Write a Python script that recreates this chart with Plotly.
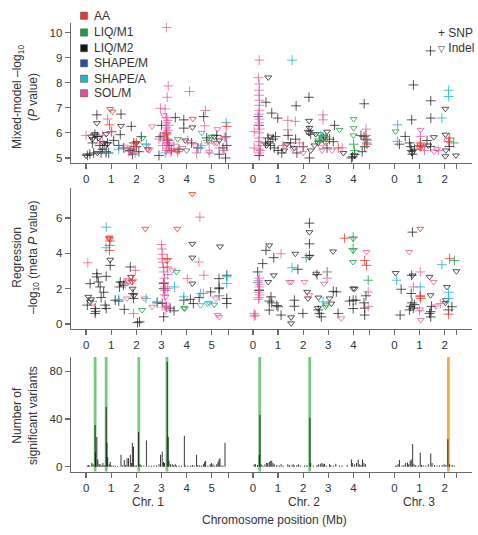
import plotly.graph_objects as go

# ---------------- data ----------------
PHENOTYPES = ["AA", "LIQ/M1", "LIQ/M2", "SHAPE/M", "SHAPE/A", "SOL/M"]

# Mixed-model -log10(P)  : (chromosome, position Mb, value)
mm_AA_snp = [(1,0.93,6.32),(1,1.02,6.05),(1,1.9,5.45),(1,2.0,5.6),(1,3.2,5.95),(1,3.25,5.75),(1,3.4,5.3),
             (1,3.65,5.25),(1,5.6,6.26),(1,5.55,5.85),(2,3.4,5.4),(2,4.55,5.55),(2,4.5,5.9),(3,1.04,5.6),
             (3,1.05,5.45),(3,1.02,5.5),(3,2.16,5.66),(3,2.2,5.8)]
mm_AA_indel = [(1,0.96,6.95),(1,1.05,6.85),(1,4.25,6.56),(1,2.45,5.35),(1,3.6,5.3),(1,5.2,5.6),
               (3,1.04,5.5),(3,1.02,5.4),(2,2.9,5.6)]
mm_LIQM1_snp = [(1,4.85,5.7),(2,4.01,5.55),(2,4.52,5.6),(2,4.05,5.3),(2,2.65,5.7),(2,2.9,5.85),(3,2.36,5.6)]
mm_LIQM1_indel = [(1,2.25,5.8),(1,3.65,5.75),(1,4.0,5.3),(1,5.0,5.85),(2,4.01,6.55),(2,4.01,6.19),
                  (2,3.45,6.12),(2,2.6,5.7),(2,2.65,5.95),(2,2.85,5.65),(3,0.05,6.06),(2,4.0,5.9)]
mm_LIQM2_snp = [(1,0.05,5.1),(1,0.15,5.15),(1,0.25,5.6),(1,0.3,5.2),(1,0.35,5.95),(1,0.43,6.72),(1,0.45,5.85),
                (1,0.55,5.5),(1,0.6,5.2),(1,0.65,5.35),(1,0.72,5.5),(1,0.8,5.25),(1,0.85,5.6),(1,0.9,5.2),
                (1,1.1,5.7),(1,1.39,6.75),(1,1.36,5.93),(1,1.3,5.5),(1,1.5,5.4),(1,1.8,6.26),(1,1.75,5.3),
                (1,1.85,5.15),(1,1.9,5.6),(1,2.0,5.45),(1,2.1,5.25),(1,2.2,5.85),(1,2.9,5.1),(1,2.95,5.85),
                (1,3.0,6.3),(1,3.2,6.0),(1,3.25,5.7),(1,3.3,5.5),(1,3.55,6.61),(1,3.89,6.52),(1,3.89,6.19),
                (1,3.7,5.35),(1,4.2,5.6),(1,4.45,5.4),(1,4.68,6.65),(1,4.8,5.8),(1,5.2,5.9),(1,5.3,5.15),
                (1,5.55,5.0),(1,5.6,5.5),(1,5.45,5.4),
                (2,0.52,7.22),(2,0.75,6.79),(2,0.99,6.59),(2,2.23,7.42),(2,1.72,7.08),(2,4.43,7.16),(2,0.25,6.3),
                (2,0.25,5.1),(2,0.5,5.6),(2,0.6,5.8),(2,0.7,5.5),(2,0.8,5.75),(2,0.9,5.85),(2,0.85,5.4),
                (2,1.0,5.3),(2,1.15,5.2),(2,1.4,5.9),(2,1.7,5.75),(2,1.5,5.6),(2,2.23,6.1),(2,2.3,5.95),
                (2,2.0,5.45),(2,2.25,5.0),(2,2.8,5.8),(2,3.05,5.75),(2,3.2,5.65),(2,2.95,5.4),(2,3.25,6.3),
                (2,3.92,5.0),(2,3.97,5.05),(2,4.05,5.15),(2,4.3,5.9),(2,4.42,5.85),(2,4.5,5.75),(2,4.35,5.25),
                (2,4.45,5.45),(2,1.75,5.2),
                (3,0.76,7.91),(3,0.69,6.52),(3,0.43,5.86),(3,0.6,5.6),(3,0.69,5.3),(3,0.72,5.15),(3,0.8,5.35),
                (3,0.65,5.45),(3,1.45,7.28),(3,1.45,6.59),(3,1.44,5.46),(3,1.44,9.27),(3,2.19,5.46),(3,1.3,5.7),
                (3,0.2,5.55)]
mm_LIQM2_indel = [(1,0.0,5.1),(1,0.2,5.85),(1,0.35,5.95),(1,0.25,5.75),(1,0.43,6.39),(1,0.5,5.8),(1,0.45,5.2),
                  (1,0.7,5.6),(1,0.8,5.95),(1,0.85,5.55),(1,1.39,6.28),(1,1.8,5.3),(1,2.0,5.6),(1,3.95,5.7),
                  (1,4.23,6.22),(1,5.1,5.85),(1,5.3,5.7),
                  (2,0.61,8.21),(2,2.23,6.48),(2,2.23,5.99),(2,2.25,6.2),(2,0.55,5.5),(2,0.7,5.85),(2,0.65,5.6),
                  (2,1.35,5.55),(2,1.25,5.3),(2,1.65,5.4),(2,2.45,5.5),(2,2.5,5.95),(2,2.3,5.3),(2,2.6,5.6),
                  (2,2.95,6.05),(2,2.85,5.85),(2,3.6,5.2),(2,4.05,5.1),
                  (3,1.57,5.83),(3,2.03,6.96),(3,2.03,5.93),(3,2.03,5.07),(3,2.45,5.1),(3,0.7,5.2),(3,2.05,5.3),
                  (3,1.35,5.5)]
mm_SHAPEM_snp = [(2,0.21,6.65)]
mm_SHAPEM_indel = []
mm_SHAPEA_snp = [(1,4.12,7.65),(1,5.57,6.41),(1,5.58,5.85),(1,2.4,5.55),(1,1.3,5.35),(1,0.78,5.2),(1,3.15,5.2),
                 (1,4.55,5.4),(2,1.56,8.9),(3,0.13,6.32),(3,0.12,5.66),(3,2.16,7.7),(3,2.16,7.45),(3,1.89,6.59),
                 (2,2.7,5.9)]
mm_SHAPEA_indel = [(1,4.6,6.0),(1,2.35,5.5)]
mm_SOLM_snp = [(1,3.2,10.2),(1,3.27,7.87),(1,3.23,7.42),(1,2.96,6.98),(1,3.15,6.95),(1,3.2,6.6),(1,3.18,6.4),
               (1,3.25,6.5),(1,3.2,6.2),(1,3.15,6.0),(1,3.1,5.8),(1,3.2,5.7),(1,3.3,5.6),(1,3.25,5.4),(1,3.2,5.3),
               (1,3.35,5.25),(1,3.05,5.5),(1,3.1,5.9),(1,3.25,6.1),(1,3.3,6.3),(1,0.85,6.55),(1,0.65,5.9),
               (1,1.0,6.05),(1,1.7,5.25),(1,1.8,5.35),(1,1.95,5.2),(1,2.5,5.4),(1,2.9,5.75),(1,3.5,5.55),
               (1,4.05,5.7),(1,4.4,5.2),(1,4.72,6.28),(1,4.75,6.89),(1,4.6,5.5),(1,4.9,5.6),(1,5.3,5.4),
               (1,5.5,5.3),(1,0.0,5.9),(1,0.55,5.6),(1,4.9,5.2),(1,5.5,5.8),
               (2,0.25,8.9),(2,0.22,8.2),(2,0.25,7.95),(2,0.25,7.7),(2,0.24,7.5),(2,0.26,7.3),(2,0.25,7.1),
               (2,0.25,6.9),(2,0.24,6.75),(2,0.26,6.55),(2,0.25,6.4),(2,0.22,6.3),(2,0.27,6.15),(2,0.25,6.0),
               (2,0.25,5.8),(2,0.22,5.65),(2,0.28,5.5),(2,0.25,5.35),(2,0.25,5.2),(2,0.05,6.05),(2,0.05,5.4),
               (2,0.3,5.3),(2,1.39,6.5),(2,1.69,6.46),(2,1.39,6.12),(2,2.79,6.72),(2,2.79,6.52),(2,1.85,5.6),
               (2,2.0,5.45),(2,4.5,6.15),(2,4.55,5.7),(2,3.55,5.4),(2,1.2,5.5),
               (3,1.04,5.86),(3,1.2,5.3),(3,1.75,5.3)]
mm_SOLM_indel = [(1,2.63,6.26),(1,5.23,6.15),(1,3.1,6.7),(1,4.9,5.25),(1,3.4,5.3),(1,2.5,5.3),(1,3.85,5.4),
                 (1,5.1,5.6),(1,1.8,5.2),(1,4.35,5.5),(1,1.55,5.45),(1,3.2,5.55),
                 (2,1.3,5.5),(2,2.0,5.2),(2,2.75,5.3),(2,2.7,5.45),(2,3.15,5.3),(2,1.6,5.35),
                 (3,1.04,6.12),(3,1.58,5.26),(3,1.7,5.35),(3,2.1,5.7),(3,1.15,5.45)]

# Regression -log10(meta P)
rg_AA_snp = [(1,0.93,4.45),(1,0.93,4.17),(1,0.95,4.7),(1,3.23,3.7),(1,3.23,3.23),(1,1.85,2.5),(2,3.65,4.86),
             (2,4.45,3.6),(2,4.52,3.32),(3,2.2,3.7),(3,1.03,1.55),(3,1.05,1.45),(3,1.03,1.6),(3,2.16,0.56)]
rg_AA_indel = [(1,0.93,4.9),(1,0.95,4.8),(1,0.9,4.85),(1,2.36,5.39),(1,3.63,5.39),(1,4.23,7.36),(1,3.23,3.6),
               (1,1.83,2.38),(3,1.03,5.39)]
rg_LIQM1_snp = [(2,2.12,3.76),(2,3.99,4.92),(2,3.99,4.26),(2,4.59,2.48),(2,2.96,2.95),(3,2.39,3.6),(1,5.3,1.6)]
rg_LIQM1_indel = [(1,2.23,0.79),(1,3.6,2.95),(1,3.93,0.88),(1,3.9,0.9),(2,3.99,4.83),(2,3.99,4.17),
                  (2,3.99,3.51),(2,2.89,0.98),(2,2.92,1.1),(1,5.1,1.1)]
rg_LIQM2_snp = [(1,0.96,3.32),(1,0.43,2.85),(1,0.43,2.67),(1,0.49,2.38),(1,0.16,2.29),(1,0.56,2.1),(1,0.8,2.7),
                (1,0.05,1.07),(1,0.36,0.88),(1,0.36,0.6),(1,0.38,0.72),(1,0.76,1.07),(1,0.8,0.88),(1,0.6,1.5),
                (1,0.7,1.8),(1,1.76,3.23),(1,1.36,2.38),(1,1.33,2.1),(1,1.49,2.2),(1,1.16,1.35),(1,1.52,0.83),
                (1,1.87,1.73),(1,1.89,1.45),(1,1.3,1.3),(1,2.05,0.08),(1,2.13,0.13),(1,2.83,1.2),(1,3.03,1.16),
                (1,3.09,2.29),(1,3.09,2.0),(1,3.09,0.41),(1,3.89,1.35),(1,4.27,1.16),(1,4.15,1.4),(1,4.96,1.82),
                (1,5.29,2.0),(1,5.3,2.05),(1,5.29,2.57),(1,5.6,2.76),(1,5.6,1.45),(1,5.6,1.16),(1,4.5,1.5),
                (1,3.35,0.9),(1,3.5,0.75),
                (2,2.25,5.71),(2,2.25,4.54),(2,2.25,3.89),(2,0.52,4.17),(2,0.39,3.42),(2,0.83,3.76),(2,0.19,2.95),
                (2,1.79,3.1),(2,0.72,1.54),(2,0.65,1.3),(2,1.0,0.98),(2,0.95,1.05),(2,1.12,0.51),(2,0.65,0.79),
                (2,0.75,1.2),(2,1.65,1.35),(2,1.65,1.01),(2,1.99,0.6),(2,2.72,0.41),(2,2.65,0.6),(2,3.32,1.82),
                (2,3.2,1.85),(2,3.39,0.6),(2,3.99,1.35),(2,3.85,1.3),(2,4.1,1.35),(2,3.99,0.88),(2,4.45,0.51),
                (2,4.45,0.9),(2,4.42,1.2),(2,4.5,1.6),(2,0.25,1.9),(2,2.55,2.8),(2,2.6,0.8),
                (3,0.72,5.2),(3,0.27,1.97),(3,0.69,2.76),(3,0.67,1.73),(3,0.6,0.8),(3,0.65,1.0),(3,0.7,1.2),
                (3,0.75,0.9),(3,0.8,1.1),(3,0.23,0.51),(3,1.45,0.4),(3,1.45,0.7),(3,1.48,1.0),(3,1.4,0.6),
                (3,2.29,0.98),(3,2.15,0.8)]
rg_LIQM2_indel = [(1,0.96,3.64),(1,0.09,1.54),(1,0.16,1.26),(1,0.2,1.4),(1,1.79,2.67),(1,1.85,2.0),(1,1.4,2.3),
                  (1,1.9,1.6),(1,4.23,4.54),(1,4.23,3.76),(1,4.23,2.29),(1,5.33,4.39),
                  (2,2.25,5.2),(2,2.25,3.79),(2,0.65,4.45),(2,1.69,3.98),(2,3.19,4.11),(2,0.83,2.76),(2,0.61,2.38),
                  (2,1.52,0.38),(2,1.52,0.04),(2,2.52,2.85),(2,2.16,1.82),(2,2.19,1.45),(2,2.61,1.5),(2,3.05,1.45),
                  (2,3.12,1.16),(2,3.99,2.01),(2,4.05,2.0),(2,2.58,0.9),
                  (3,0.05,2.89),(3,1.4,2.67),(3,1.44,1.63),(3,2.47,2.99),(3,2.09,2.1),(3,2.03,1.2),(3,2.05,1.35),
                  (3,0.72,2.75)]
rg_SHAPEM_snp = []
rg_SHAPEM_indel = []
rg_SHAPEA_snp = [(1,0.8,5.48),(1,0.8,4.32),(1,2.39,1.45),(1,2.83,1.26),(1,3.52,2.1),(1,3.89,1.54),(1,4.56,1.73),
                 (1,5.6,2.67),(1,5.6,2.29),(1,1.3,1.4),(2,0.19,2.35),(2,1.56,3.19),(2,2.79,1.26),(3,0.09,2.48),
                 (3,1.03,2.1),(3,1.89,3.36),(3,2.16,1.8),(3,2.16,1.45)]
rg_SHAPEA_indel = [(1,4.56,1.07),(1,4.83,1.16),(1,4.9,1.2)]
rg_SOLM_snp = [(1,0.07,3.47),(1,1.96,3.04),(1,1.56,2.29),(1,1.89,0.6),(1,4.53,6.05),(1,4.03,2.57),(1,4.49,3.51),
               (1,4.69,2.76),(1,4.67,1.73),(1,3.0,4.5),(1,3.02,4.25),(1,3.05,3.95),(1,3.02,3.7),(1,3.05,3.5),
               (1,3.08,3.2),(1,3.1,2.95),(1,3.12,2.6),(1,3.1,2.35),(1,3.15,2.1),(1,3.15,1.9),(1,3.12,1.65),
               (1,3.15,1.2),(1,3.2,1.0),(1,3.18,0.8),(1,3.25,2.8),(1,3.25,2.0),
               (2,0.25,2.6),(2,0.22,2.45),(2,0.27,2.25),(2,0.25,2.1),(2,0.25,1.95),(2,0.23,1.8),(2,0.27,1.65),
               (2,0.25,1.5),(2,0.22,1.4),(2,0.05,0.6),(2,0.05,0.45),(2,1.12,3.98),(2,4.59,1.82),(2,4.59,0.98),
               (2,2.95,2.6),(2,0.1,0.5),
               (3,1.03,2.95),(3,0.76,2.1),(3,1.83,1.16),(3,1.0,0.75)]
rg_SOLM_indel = [(1,1.63,2.48),(1,1.63,1.45),(1,1.7,2.4),(1,2.32,1.45),(1,2.63,0.98),(1,3.43,3.04),(1,3.16,1.54),
                 (1,3.19,0.98),(1,3.22,0.85),(1,5.16,1.45),(1,5.23,0.51),(1,5.3,0.4),(1,0.3,1.2),
                 (2,1.45,2.38),(2,1.52,2.38),(2,2.05,2.38),(2,2.25,1.63),(2,2.83,2.29),(2,3.52,0.32),(2,4.52,4.08),
                 (3,0.59,4.08),(3,1.05,0.23),(3,1.03,0.83),(3,1.56,2.38),(3,1.65,1.0)]

# Number of significant variants per window: (position Mb, count)
hist_chr1 = [(0.05,1),(0.1,1.5),(0.15,1),(0.23,3.4),(0.28,2),(0.36,35),(0.38,12),(0.43,25),(0.47,6),(0.52,2),
             (0.56,2),(0.62,1),(0.67,3),(0.72,1.5),(0.8,50),(0.83,20),(0.86,8),(0.92,2),(0.96,4),(1.0,1),
             (1.08,1),(1.16,0.8),(1.25,0.5),(1.39,10),(1.45,1),(1.52,5.6),(1.58,1.5),(1.63,7),(1.69,7),
             (1.76,10),(1.8,3),(1.84,20),(1.89,17),(1.95,1),(2.0,1),(2.09,29),(2.15,2),(2.2,1),(2.3,1),
             (2.4,22),(2.5,1),(2.6,0.8),(2.7,1),(2.8,1),(2.9,2),(2.96,10),(3.03,12.6),(3.08,4),(3.12,3),
             (3.23,88),(3.27,25),(3.3,5),(3.36,2),(3.43,2),(3.49,1.5),(3.55,2),(3.6,1),(3.7,1),(3.8,0.8),
             (3.91,26),(3.95,1),(4.05,1),(4.15,1),(4.23,1.5),(4.3,1),(4.4,10),(4.45,1.5),(4.52,1),(4.6,1),
             (4.67,2),(4.72,4),(4.76,5),(4.85,1),(4.94,2),(4.99,3),(5.05,2),(5.12,1),(5.2,2),(5.25,4),
             (5.29,6),(5.33,7),(5.4,1),(5.45,1),(5.53,20)]
hist_chr2 = [(0.05,2),(0.1,2),(0.18,1.5),(0.25,10),(0.28,43.5),(0.33,2),(0.4,1),(0.48,2),(0.55,3),(0.59,3),
             (0.65,4),(0.69,5),(0.75,5),(0.8,3),(0.85,2),(0.95,1.5),(1.05,1),(1.12,2),(1.2,1),(1.39,2),
             (1.45,1.5),(1.55,1),(1.6,2),(1.65,1),(1.75,1.5),(1.82,2),(1.9,1),(2.05,1),(2.15,1.5),(2.27,41),
             (2.3,3),(2.4,1),(2.55,1.5),(2.62,2),(2.7,2.5),(2.75,3),(2.8,2),(2.85,2.5),(2.92,1),(3.05,2),
             (3.1,1.5),(3.2,1),(3.3,2.5),(3.45,1),(3.55,1),(3.75,1.5),(3.92,6),(3.97,3),(4.05,2),(4.12,3),
             (4.19,6),(4.25,2),(4.3,1.5),(4.36,6),(4.42,3),(4.48,2)]
hist_chr3 = [(0.05,1),(0.1,1),(0.15,2),(0.2,5.6),(0.3,1),(0.38,1.5),(0.45,3),(0.52,3.5),(0.57,2),(0.63,5),
             (0.67,6),(0.73,19),(0.78,2),(0.85,1.5),(0.95,1),(1.03,12),(1.08,1.5),(1.15,1),(1.25,1),(1.35,2),
             (1.45,11),(1.5,3),(1.6,1.5),(1.7,1),(1.8,1),(1.9,1.5),(1.98,2),(2.05,1.5),(2.13,23),(2.2,2),
             (2.3,1.5),(2.38,1)]

# highlighted loci (chromosome, position Mb, kind)
band_chr = [1, 1, 1, 1, 2, 2, 3]
band_pos = [0.36, 0.8, 2.1, 3.22, 0.27, 2.26, 2.15]
band_kind = ["g", "g", "g", "g", "g", "g", "o"]

chr_names = ["Chr. 1", "Chr. 2", "Chr. 3"]
chr_ticks = {1: [0, 1, 2, 3, 4, 5], 2: [0, 1, 2, 3, 4], 3: [0, 1, 2]}

# ---------------- layout constants ----------------
CHR_OFF = {1: 0.0, 2: 6.64, 3: 12.27}
CHR_END = {1: 5.68, 2: 4.64, 3: 2.46}
XR = [-0.6, 15.36]

COLORS = {"AA": "#e8392e", "LIQ/M1": "#1f9e4a", "LIQ/M2": "#1e1e1e",
          "SHAPE/M": "#2c4fa3", "SHAPE/A": "#22b2d6", "SOL/M": "#df4f9a"}
ALPHA = {"AA": 0.8, "LIQ/M1": 0.8, "LIQ/M2": 0.75, "SHAPE/M": 0.8, "SHAPE/A": 0.8, "SOL/M": 0.7}

def rgba(hexc, a):
    h = hexc.lstrip("#")
    return "rgba(%d,%d,%d,%.2f)" % (int(h[0:2], 16), int(h[2:4], 16), int(h[4:6], 16), a)

def gx(c, p):
    return CHR_OFF[c] + p

panels = {
    1: {"AA": (mm_AA_snp, mm_AA_indel), "LIQ/M1": (mm_LIQM1_snp, mm_LIQM1_indel),
        "LIQ/M2": (mm_LIQM2_snp, mm_LIQM2_indel), "SHAPE/M": (mm_SHAPEM_snp, mm_SHAPEM_indel),
        "SHAPE/A": (mm_SHAPEA_snp, mm_SHAPEA_indel), "SOL/M": (mm_SOLM_snp, mm_SOLM_indel)},
    2: {"AA": (rg_AA_snp, rg_AA_indel), "LIQ/M1": (rg_LIQM1_snp, rg_LIQM1_indel),
        "LIQ/M2": (rg_LIQM2_snp, rg_LIQM2_indel), "SHAPE/M": (rg_SHAPEM_snp, rg_SHAPEM_indel),
        "SHAPE/A": (rg_SHAPEA_snp, rg_SHAPEA_indel), "SOL/M": (rg_SOLM_snp, rg_SOLM_indel)},
}

fig = go.Figure()

draw_order = ["LIQ/M2", "SHAPE/M", "SHAPE/A", "LIQ/M1", "SOL/M", "AA"]
for row, pdata in panels.items():
    xa = "x" if row == 1 else "x2"
    ya = "y" if row == 1 else "y2"
    for ph in draw_order:
        snp, ind = pdata[ph]
        col = rgba(COLORS[ph], ALPHA[ph])
        for pts, sym, sz in ((ind, "triangle-down-open", 6), (snp, "cross-thin-open", 7)):
            if not pts:
                continue
            fig.add_trace(go.Scatter(
                x=[gx(c, p) for c, p, v in pts], y=[v for c, p, v in pts],
                mode="markers", xaxis=xa, yaxis=ya, showlegend=False, hoverinfo="skip",
                marker=dict(symbol=sym, size=sz, color=col, line=dict(color=col, width=1))))

# bands
BAND_TOP = 92.0
BAND_BASE = -4.2
fig.add_trace(go.Bar(
    x=[gx(c, p) for c, p in zip(band_chr, band_pos)],
    y=[BAND_TOP - BAND_BASE] * len(band_pos), base=[BAND_BASE] * len(band_pos),
    width=0.11, xaxis="x3", yaxis="y3", showlegend=False, hoverinfo="skip",
    marker=dict(color=["rgba(96,190,104,0.85)" if k == "g" else "rgba(245,160,40,0.9)" for k in band_kind],
                line=dict(width=0))))

hx, hy = [], []
for c, lst in ((1, hist_chr1), (2, hist_chr2), (3, hist_chr3)):
    for p, n in lst:
        hx.append(gx(c, p))
        hy.append(n)
fig.add_trace(go.Bar(x=hx, y=hy, width=0.035, xaxis="x3", yaxis="y3", showlegend=False,
                     hoverinfo="skip", marker=dict(color="rgba(10,10,10,0.92)", line=dict(width=0))))

# axes
tickvals, ticktext = [], []
for c in (1, 2, 3):
    for t in chr_ticks[c]:
        tickvals.append(gx(c, t)); ticktext.append(str(t))
    tickvals.append(gx(c, CHR_END[c])); ticktext.append(" ")

AX = "#6a6a6a"
xcommon = dict(range=XR, showline=True, linecolor=AX, linewidth=1.3, ticks="outside", ticklen=5,
               tickwidth=1.2, tickcolor=AX, tickvals=tickvals, ticktext=ticktext, showgrid=False,
               zeroline=False, tickfont=dict(size=11.5, color="#333"), fixedrange=True)
ycommon = dict(showline=True, linecolor=AX, linewidth=1.3, ticks="outside", ticklen=5, tickwidth=1.2,
               tickcolor=AX, showgrid=False, zeroline=False, tickfont=dict(size=11.5, color="#333"),
               fixedrange=True)

FIG_W, FIG_H = 478, 535
L = 71.0
W_PLOT = 401.0
def py(px):
    return 1 - px / FIG_H
def pxx(px):
    return (px - L) / W_PLOT

fig.update_layout(
    width=FIG_W, height=FIG_H, margin=dict(l=L, r=FIG_W - L - W_PLOT, t=0, b=0),
    plot_bgcolor="white", paper_bgcolor="white", showlegend=False, barmode="overlay",
    hovermode=False,
    font=dict(family="Liberation Sans, Arial, sans-serif", size=11.5, color="#333"),
    xaxis=dict(domain=[0, 1], anchor="y", **xcommon),
    xaxis2=dict(domain=[0, 1], anchor="y2", **xcommon),
    xaxis3=dict(domain=[0, 1], anchor="y3", **xcommon),
    yaxis=dict(domain=[py(163), py(22.5)], anchor="x", range=[4.8, 10.4],
               tickvals=[5, 6, 7, 8, 9, 10], **ycommon),
    yaxis2=dict(domain=[py(329), py(188)], anchor="x2", range=[-0.28, 7.7],
                tickvals=[0, 2, 4, 6], **ycommon),
    yaxis3=dict(domain=[py(471.7), py(357)], anchor="x3", range=[-4.2, 92],
                tickvals=[0, 40, 80], **ycommon),
)

ann = []
shapes = []
leg_y = [15.7, 32.5, 48.2, 63.3, 78.7, 93.3]
for ph, yy in zip(PHENOTYPES, leg_y):
    shapes.append(dict(type="rect", xref="paper", yref="paper",
                       x0=pxx(80.5), x1=pxx(87.5), y0=py(yy + 3.6), y1=py(yy - 3.6),
                       fillcolor=COLORS[ph] if ph != "LIQ/M2" else "#161616",
                       line=dict(width=0.6, color="#555")))
    ann.append(dict(text=ph, xref="paper", yref="paper", x=pxx(92), y=py(yy), xanchor="left",
                    yanchor="middle", showarrow=False, font=dict(size=12, color="#333")))

ann.append(dict(text="+ SNP", xref="paper", yref="paper", x=pxx(436), y=py(33), xanchor="left",
                yanchor="middle", showarrow=False, font=dict(size=12, color="#333")))
ann.append(dict(text="<span style='font-size:9px'>▽</span> Indel", xref="paper", yref="paper", x=pxx(436),
                y=py(48), xanchor="left", yanchor="middle", showarrow=False, font=dict(size=12, color="#333")))

ytitles = [("Mixed-model –log<sub>10</sub><br>(<i>P</i> value)", 97),
           ("Regression<br>–log<sub>10</sub> (meta <i>P</i> value)", 258),
           ("Number of<br>significant variants", 416)]
for t, yy in ytitles:
    ann.append(dict(text=t, xref="paper", yref="paper", x=pxx(25), y=py(yy), xanchor="center",
                    yanchor="middle", textangle=-90, showarrow=False, font=dict(size=12, color="#333")))

chr_center = {1: 2.47, 2: 2.03, 3: 0.97}
for c, name in zip((1, 2, 3), chr_names):
    ann.append(dict(text=name, xref="x3", yref="paper", x=gx(c, chr_center[c]), y=py(502),
                    xanchor="center", yanchor="middle", showarrow=False, font=dict(size=12, color="#333")))
ann.append(dict(text="Chromosome position (Mb)", xref="paper", yref="paper", x=pxx(274), y=py(520),
                xanchor="center", yanchor="middle", showarrow=False, font=dict(size=12, color="#333")))

fig.update_layout(annotations=ann, shapes=shapes)
# remove the browser's default 8 px page margin so the 478x535 figure fills the window exactly
fig.write_html("out.html", config={"displayModeBar": False, "staticPlot": True},
               post_script="document.body.style.margin='0px';document.body.style.overflow='hidden';")
